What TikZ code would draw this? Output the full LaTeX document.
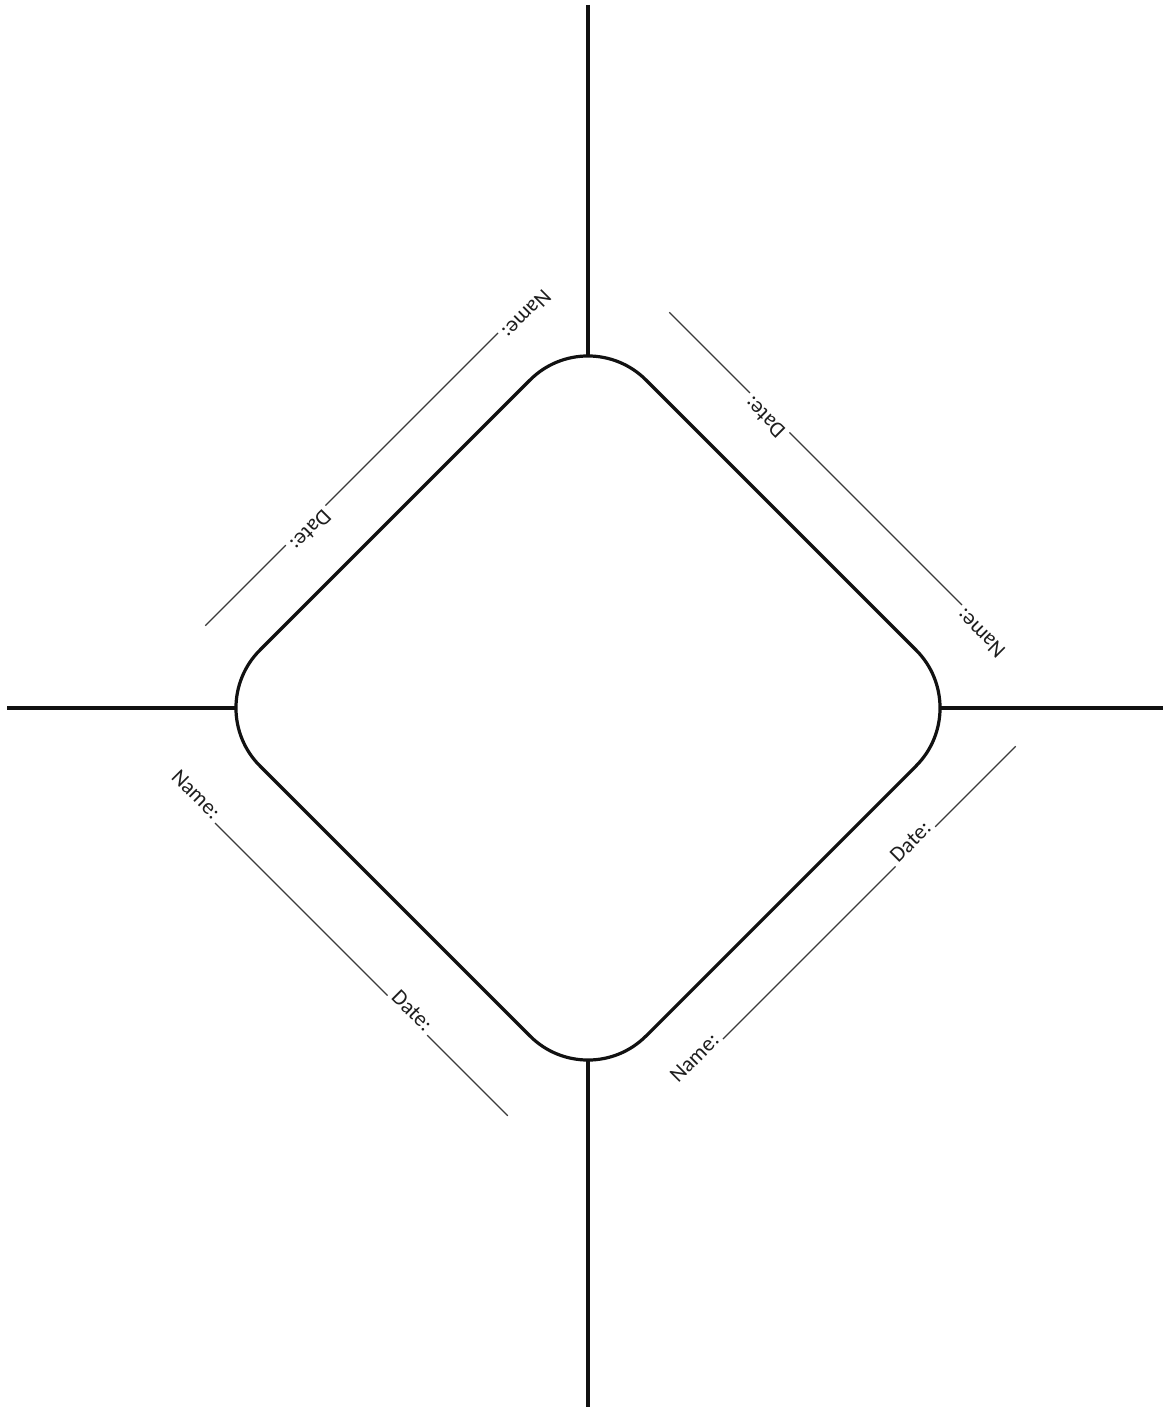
\documentclass[tikz,border=0pt]{standalone}
\usepackage{fontspec}
\setmainfont{Carlito}
\definecolor{inkline}{HTML}{111111}
\definecolor{formgray}{HTML}{3A3A3A}
\definecolor{formtextcol}{HTML}{1E1E1E}
\tikzset{
  thickline/.style={draw=inkline, line width=3.6pt},
  diamondline/.style={draw=inkline, line width=3.2pt},
  formline/.style={draw=formgray, line width=1.1pt},
  formtext/.style={inner sep=0pt, outer sep=0pt, text=formtextcol, font=\fontsize{22}{26}\selectfont},
}
% one form side: name prefix, start point of first line, angle
\newcommand\formside[3]{%
  \begin{scope}[shift={(#2)},rotate=#3]
    \coordinate (#1la) at (0,0);
    \coordinate (#1lb) at (244,0);
    \coordinate (#1ma) at (300,0);
    \coordinate (#1mb) at (414,0);
    \node[formtext, anchor=base east, rotate=#3] (#1name) at (-4,0) {Name:};
    \node[formtext, anchor=base, rotate=#3] (#1date) at (272,0) {Date:};
  \end{scope}
  \draw[formline] (#1la) -- (#1lb);
  \draw[formline] (#1ma) -- (#1mb);
}
\begin{document}
\begin{tikzpicture}[x=1pt,y=-1pt]
  \useasboundingbox (0,0) rectangle (1163,1407);
  \fill[white] (0,0) rectangle (1163,1407);
  % central rounded diamond
  \draw[diamondline, rounded corners=82pt]
    (588,322) -- (974,708) -- (588,1094) -- (202,708) -- cycle;
  \coordinate (dtop) at (588,356);
  \coordinate (dbottom) at (588,1060);
  \coordinate (dleft) at (236,708);
  \coordinate (dright) at (940,708);
  % outer ends of the dividing lines
  \coordinate (atop) at (588,5);
  \coordinate (abottom) at (588,1407);
  \coordinate (aleft) at (7,708);
  \coordinate (aright) at (1163,708);
  \draw[thickline] (atop) -- (dtop);
  \draw[thickline] (dbottom) -- (abottom);
  \draw[thickline] (aleft) -- (dleft);
  \draw[thickline] (dright) -- (aright);
  % form lines on the four sides
  \formside{nw}{498,333}{225}
  \formside{ne}{962,605}{135}
  \formside{sw}{215,823}{-45}
  \formside{se}{723,1039}{45}
\end{tikzpicture}
\end{document}
